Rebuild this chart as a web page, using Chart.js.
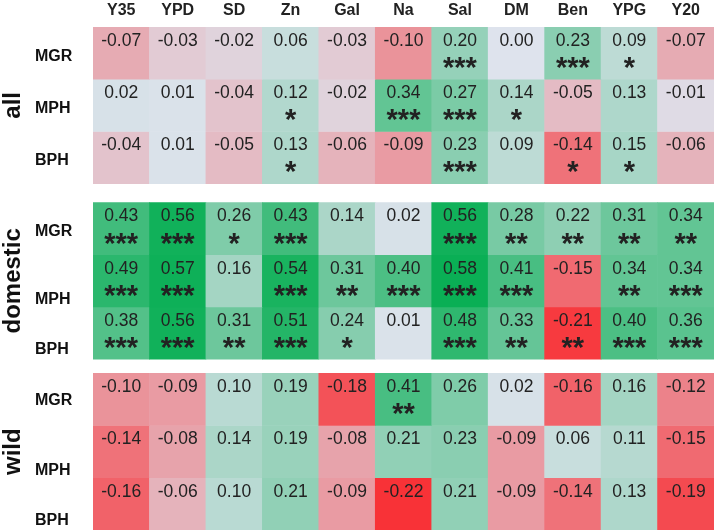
<!DOCTYPE html>
<html>
<head>
<meta charset="utf-8">
<script src="https://cdn.jsdelivr.net/npm/chart.js@4/dist/chart.umd.min.js"></script>
<style>
  body { margin: 0; background: #fff; }
  #wrap { width: 714px; height: 530px; }
</style>
</head>
<body>
<div id="wrap"><canvas id="heat"></canvas></div>
<script>
const traits = ['Y35', 'YPD', 'SD', 'Zn', 'Gal', 'Na', 'Sal', 'DM', 'Ben', 'YPG', 'Y20']
const groups = ['all', 'domestic', 'wild']
const measures = ['MGR', 'MPH', 'BPH']

// correlation values, one row per measure
const allCorr = [
  [-0.07, -0.03, -0.02, 0.06, -0.03, -0.10, 0.20, 0.00, 0.23, 0.09, -0.07],
  [0.02, 0.01, -0.04, 0.12, -0.02, 0.34, 0.27, 0.14, -0.05, 0.13, -0.01],
  [-0.04, 0.01, -0.05, 0.13, -0.06, -0.09, 0.23, 0.09, -0.14, 0.15, -0.06]
]
const domesticCorr = [
  [0.43, 0.56, 0.26, 0.43, 0.14, 0.02, 0.56, 0.28, 0.22, 0.31, 0.34],
  [0.49, 0.57, 0.16, 0.54, 0.31, 0.40, 0.58, 0.41, -0.15, 0.34, 0.34],
  [0.38, 0.56, 0.31, 0.51, 0.24, 0.01, 0.48, 0.33, -0.21, 0.40, 0.36]
]
const wildCorr = [
  [-0.10, -0.09, 0.10, 0.19, -0.18, 0.41, 0.26, 0.02, -0.16, 0.16, -0.12],
  [-0.14, -0.08, 0.14, 0.19, -0.08, 0.21, 0.23, -0.09, 0.06, 0.11, -0.15],
  [-0.16, -0.06, 0.10, 0.21, -0.09, -0.22, 0.21, -0.09, -0.14, 0.13, -0.19]
]

// number of significance stars
const allStars = [
  [0, 0, 0, 0, 0, 0, 3, 0, 3, 1, 0],
  [0, 0, 0, 1, 0, 3, 3, 1, 0, 0, 0],
  [0, 0, 0, 1, 0, 0, 3, 0, 1, 1, 0]
]
const domesticStars = [
  [3, 3, 1, 3, 0, 0, 3, 2, 2, 2, 2],
  [3, 3, 0, 3, 2, 3, 3, 3, 0, 2, 3],
  [3, 3, 2, 3, 1, 0, 3, 2, 2, 3, 3]
]
const wildStars = [
  [0, 0, 0, 0, 0, 2, 0, 0, 0, 0, 0],
  [0, 0, 0, 0, 0, 0, 0, 0, 0, 0, 0],
  [0, 0, 0, 0, 0, 0, 0, 0, 0, 0, 0]
]

const corrByGroup = [allCorr, domesticCorr, wildCorr]
const starsByGroup = [allStars, domesticStars, wildStars]

const FONT = "'Liberation Sans', Arial, sans-serif"
const gapAfter = [0.36, 0.27] // space between groups, in row units
const labelShift = [[3, 3, 3], [3, 19, 17], [1, 19, 17]] // row label nudge in px

const MID = [222, 227, 237]
const RED = [248, 50, 55]
const GREEN = [10, 175, 85]
function colorFor(v) {
  let end, t
  if (v < 0) { end = RED; t = Math.min(1, -v / 0.22) }
  else { end = GREEN; t = Math.min(1, v / 0.58) }
  const c = MID.map((m, i) => Math.round(m + (end[i] - m) * t))
  return `rgb(${c[0]},${c[1]},${c[2]})`
}

const datasets = []
groups.forEach((g, gi) => {
  measures.forEach((m, mi) => {
    const vals = corrByGroup[gi][mi]
    datasets.push({
      label: g + ' ' + m,
      data: traits.map(() => 1),
      corr: vals,
      stars: starsByGroup[gi][mi],
      group: gi,
      row: mi,
      backgroundColor: ctx => colorFor(vals[ctx.dataIndex]),
      borderWidth: 0
    })
  })
  if (gi < gapAfter.length) {
    datasets.push({
      label: 'gap' + gi,
      data: traits.map(() => gapAfter[gi]),
      backgroundColor: 'rgba(0,0,0,0)',
      borderWidth: 0,
      isGap: true
    })
  }
})
const totalRows = 9 + gapAfter[0] + gapAfter[1]

const cellText = {
  id: 'cellText',
  afterDatasetsDraw(chart) {
    const ctx = chart.ctx
    ctx.save()
    ctx.fillStyle = '#222'
    ctx.textAlign = 'center'
    ctx.textBaseline = 'middle'
    chart.data.datasets.forEach((ds, di) => {
      if (ds.isGap) return
      chart.getDatasetMeta(di).data.forEach((bar, i) => {
        const top = Math.min(bar.y, bar.base)
        ctx.font = '17.5px ' + FONT
        ctx.fillText(ds.corr[i].toFixed(2), bar.x, top + 14)
        if (ds.stars[i] > 0) {
          ctx.font = 'bold 29px ' + FONT
          ctx.fillText('*'.repeat(ds.stars[i]), bar.x, top + 42)
        }
      })
    })
    ctx.restore()
  }
}

const sideLabels = {
  id: 'sideLabels',
  afterDraw(chart) {
    const ctx = chart.ctx
    ctx.save()
    ctx.fillStyle = '#111'
    ctx.textBaseline = 'middle'
    const spans = [[], [], []]
    chart.data.datasets.forEach((ds, di) => {
      if (ds.isGap) return
      const bar = chart.getDatasetMeta(di).data[0]
      const top = Math.min(bar.y, bar.base)
      const bottom = Math.max(bar.y, bar.base)
      spans[ds.group].push(top, bottom)
      ctx.font = 'bold 16px ' + FONT
      ctx.textAlign = 'left'
      ctx.fillText(measures[ds.row], 35, (top + bottom) / 2 + labelShift[ds.group][ds.row])
    })
    groups.forEach((g, gi) => {
      const cy = (Math.min(...spans[gi]) + Math.max(...spans[gi])) / 2
      ctx.save()
      ctx.translate(13, cy)
      ctx.rotate(-Math.PI / 2)
      ctx.textAlign = 'center'
      ctx.font = 'bold 24px ' + FONT
      ctx.fillText(g, 0, 0)
      ctx.restore()
    })
    ctx.restore()
  }
}

new Chart(document.getElementById('heat'), {
  type: 'bar',
  data: { labels: traits, datasets: datasets },
  options: {
    responsive: true,
    maintainAspectRatio: false,
    animation: false,
    layout: { padding: { left: 93, right: 0, top: 0, bottom: 0 } },
    datasets: { bar: { barPercentage: 1, categoryPercentage: 1 } },
    scales: {
      x: {
        position: 'top',
        stacked: true,
        grid: { display: false, drawTicks: false },
        border: { display: false },
        ticks: {
          color: '#222',
          font: { family: FONT, size: 16, weight: 'bold' },
          padding: 7,
          maxRotation: 0,
          autoSkip: false
        },
        afterFit: axis => { axis.height = 27 }
      },
      y: {
        display: false,
        stacked: true,
        reverse: true,
        min: 0,
        max: totalRows
      }
    },
    plugins: {
      legend: { display: false },
      tooltip: { enabled: false }
    }
  },
  plugins: [cellText, sideLabels]
})
</script>
</body>
</html>
